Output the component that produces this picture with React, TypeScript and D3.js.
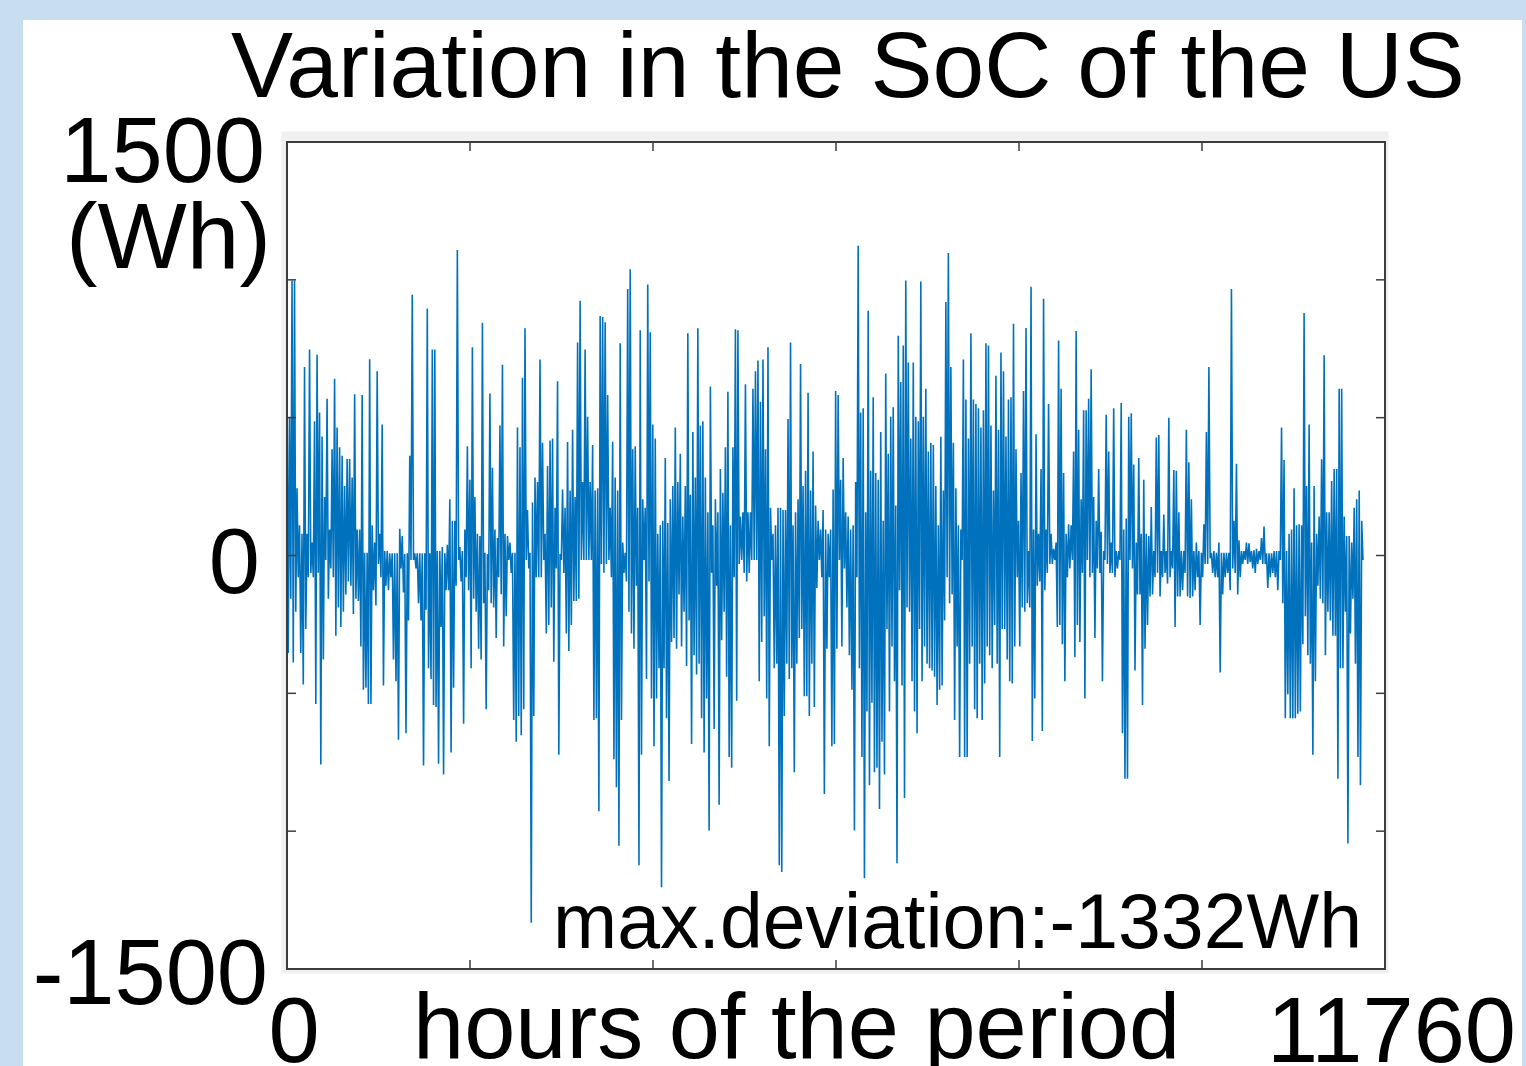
import React, { useRef, useEffect } from "react";
import * as d3 from "d3";

// positive and negative excursions of the SoC, read column by column (Wh)
const upperPeaks = [
  676, 503, 998, 998, 244, 110, 79, 684, 79, 747,
  47, 487, 728, 519, 432, 212, 569, 94, 385, 641,
  464, 393, 362, 252, 350, 350, 283, 585, 94, 94,
  582, 10, 10, 712, 110, 47, 668, 79, 475, 16,
  16, 8, 8, 8, 8, 97, 71, 5, 8, 362,
  946, 8, 8, 8, 8, 8, 896, 8, 747, 747,
  16, 16, 31, 8, 39, 204, 126, 126, 1108,
  31, 16, 94, 396, 275, 755, 212, 79, 71, 844, 10,
  5, 588, 318, 94, 63, 472, 692, 79, 71, 47,
  10, 10, 464, 393, 645, 824, 165, 10, 192, 283,
  267, 711, 409, 79, 325, 417, 424, 173, 632, 5,
  239, 173, 412, 236, 456, 212, 773, 924, 267, 747,
  503, 267, 401, 236, 244, 869, 865, 846, 582, 173,
  413, 283, 236, 770, 47, 10, 967, 1038, 385, 396, 173, 817,
  204, 173, 983, 810, 475, 424, 79, 110,
  126, 354, 118, 204, 252, 464, 267, 369, 141, 252,
  806, 220, 448, 283, 824, 472, 487, 283, 157, 613,
  110, 204, 157, 314, 228, 393, 594, 110, 393, 821,
  817, 141, 157, 621, 157, 157, 605, 668, 707, 558,
  711, 385, 755, 173, 79, 110, 173, 173, 165, 165,
  495, 773, 110, 157, 204, 695, 252, 307, 590, 236,
  377, 181, 126, 94, 165, 94, 79, 94, 239, 597,
  582, 275, 354, 157, 141, 94, 110, 267, 1124, 519,
  534, 157, 888, 307, 574, 299, 275, 448, 126, 660,
  369, 503, 538, 181, 797, 629, 762, 998, 700, 424,
  700, 503, 487, 994, 503, 605, 377, 409, 401, 252,
  110, 431, 236, 920, 1097, 684, 409, 244, 110, 94,
  711, 566, 424, 806, 566, 550, 534, 464, 527, 770,
  762, 472, 236, 652,
  456, 736, 668, 432, 566, 574,
  841, 385, 126, 299, 597, 825, 16, 975, 94, 440,
  79, 314, 931, 94, 550, 79, 24, 47, 780, 605,
  299, 79, 113, 110, 377, 814, 456, 204, 527, 527,
  569, 676, 212, 126, 314, 86, 16, 511, 377, 47,
  534, 16, 16, 553, 94, 134, 503, 516, 330, 47,
  354, 79, 275, 79, 71, 176, 16, 428, 437, 16,
  149, 16, 500, 16, 310,
  307, 157, 16, 16, 456, 338, 204, 16, 47, 16,
  10, 113, 448, 684, 10, 16, 10, 47, 10, 10,
  10, 10, 967, 126, 333, 55, 16, 16, 47, 44,
  16, 19, 24, 16, 63, 105, 8, 8, 8, 16,
  16, 16, 464, 346, 16, 79, 94, 244, 110, 113,
  110, 880, 252, 475, 47, 252, 79, 141, 349, 726,
  157, 157, 270, 314, 314, 605, 605, 141, 71, 71,
  47, 173, 204, 236, 126,
];

const lowerPeaks = [
  -354, -157, -388, -204, -79, -354, -468, -267, -79, -63,
  -79, -539, -63, -758, -377, -16, -157, -47, -79, -291,
  -189, -259, -204, -141, -94, -110, -212, -157, -165, -330,
  -487, -480, -539, -539, -126, -181, -31, -79, -472, -110,
  -126, -79, -377, -456, -668, -47, -134, -645, -236, -16,
  -16, -47, -173, -236, -762, -197, -409, -448, -542, -550,
  -755, -259, -794, -126, -126, -715, -480, -110, -16,
  -94, -610, -79, -126, -409, -157, -204, -338, -377, -173, -558,
  -126, -173, -189, -299, -79, -141, -330, -220, -16, -63,
  -597, -676, -582, -652, -558, -16, -47, -1332, -582, -79,
  -79, -79, -16, -283, -252, -189, -385, -47, -723, -16,
  -63, -283, -346, -252, -165, -165, -157, -16, -16, -16,
  -16, -16, -597, -590, -928, -31, -63, -31, -16, -79,
  -739, -841, -1053, -597, -63, -94, -204, -283, -338, -110, -1124, -723,
  -16, -448, -94, -519, -692, -519, -409, -1203,
  -409, -590, -818, -314, -299, -338, -141, -330, -204, -401,
  -236, -684, -362, -432, -393, -590, -715, -519, -998, -63,
  -629, -110, -904, -307, -204, -440, -731, -770, -79, -527,
  -31, -16, -63, -94, -63, -16, -16, -16, -456, -314,
  -220, -519, -692, -16, -409, -393, -1124, -1148, -582, -393,
  -448, -409, -786, -393, -299, -267, -511, -511, -582, -393,
  -550, -118, -16, -79, -865, -338, -79, -692, -684, -338,
  -16, -330, -47, -189, -362, -487, -998, -79, -409, -731,
  -1171, -566, -833, -534, -786, -770, -920, -676, -794, -267,
  -566, -330, -456, -1116, -126, -472, -880, -189, -204, -456,
  -566, -645, -267, -456, -330, -393, -409, -417, -440, -542,
  -487, -472, -236, -79, -173, -141, -597, -330, -731, -16,
  -731, -731, -393, -330, -558, -590, -393, -597, -464, -330,
  -362, -409, -252, -393,
  -731, -267, -267, -377, -456, -464,
  -330, -79, -330, -189, -204, -173, -189, -673, -519, -110,
  -94, -637, -126, -63, -31, -31, -16, -259, -252, -322,
  -456, -79, -47, -16, -369, -252, -314, -63, -519, -16,
  -79, -63, -299, -47, -63, -456, -16, -31, -63, -63,
  -79, -47, -16, -645, -810, -810, -16, -47, -417, -141,
  -141, -542, -338, -252, -149, -141, -79, -63, -149, -79,
  -63, -102, -79, -47, -259,
  -149, -149, -126, -63, -149, -154, -149, -126, -79, -252,
  -79, -31, -31, -10, -63, -79, -79, -424, -141, -79,
  -63, -126, -47, -63, -141, -79, -31, -16, -31, -24,
  -47, -63, -31, -16, -31, -31, -118, -79, -63, -79,
  -126, -16, -173, -590, -503, -590, -590, -590, -574, -566,
  -322, -220, -362, -393, -723, -456, -110, -157, -173, -362,
  -204, -236, -291, -291, -810, -409, -409, -204, -1045, -283,
  -157, -393, -731, -833, -16,
];

const lastHour = 11524; // the series stops short of the axis end
const xDomain = [0, 11760];
const yDomain = [-1500, 1500];
const xTicks = [0, 1960, 3920, 5880, 7840, 9800, 11760];
const yTicks = [-1500, -1000, -500, 0, 500, 1000, 1500];
const xTickLabels = ["0", "11760"];
const yTickLabels = ["1500", "0", "-1500"];
const title = "Variation in the SoC of the US";
const xTitle = "hours of the period";
const yUnit = "(Wh)";
const note = "max.deviation:-1332Wh";

const font = "'Liberation Sans', Arial, Helvetica, sans-serif";

function App() {
  const svgRef = useRef(null);

  useEffect(() => {
    const svg = d3.select(svgRef.current);
    svg.selectAll("*").remove();

    const x = d3.scaleLinear().domain(xDomain).range([287, 1385]);
    const y = d3.scaleLinear().domain(yDomain).range([969, 142]);

    // up/down pairs one after the other, like the hourly swings
    const n = Math.min(upperPeaks.length, lowerPeaks.length);
    const series: number[] = [];
    for (let i = 0; i < n; i++) {
      series.push(upperPeaks[i], lowerPeaks[i]);
    }
    const step = lastHour / (series.length - 1);

    // page background + white panel
    svg.append("rect").attr("width", 1526).attr("height", 1066).attr("fill", "#c9ddf1");
    svg.append("rect").attr("x", 23).attr("y", 20).attr("width", 1499).attr("height", 1046).attr("fill", "#ffffff");

    // grey figure backdrop behind the axes box
    svg.append("rect").attr("x", 281.5).attr("y", 131.5).attr("width", 1107).attr("height", 842).attr("fill", "#f0f0f0");
    svg.append("rect")
      .attr("x", x(xDomain[0])).attr("y", y(yDomain[1]))
      .attr("width", x(xDomain[1]) - x(xDomain[0]))
      .attr("height", y(yDomain[0]) - y(yDomain[1]))
      .attr("fill", "#ffffff");

    const line = d3.line<number>()
      .x((d, i) => x(i * step))
      .y((d) => y(d));

    svg.append("path")
      .datum(series)
      .attr("d", line)
      .attr("fill", "none")
      .attr("stroke", "#0072bd")
      .attr("stroke-width", 1.6)
      .attr("stroke-linejoin", "miter")
      .attr("stroke-miterlimit", 1);

    // box with inward ticks on every side
    const tickLen = 9;
    const axisColor = "#3c3c3c";
    svg.append("rect")
      .attr("x", x(xDomain[0])).attr("y", y(yDomain[1]))
      .attr("width", x(xDomain[1]) - x(xDomain[0]))
      .attr("height", y(yDomain[0]) - y(yDomain[1]))
      .attr("fill", "none").attr("stroke", axisColor).attr("stroke-width", 2);

    const inner = xTicks.slice(1, -1);
    svg.selectAll(".xtick-b").data(inner).join("line")
      .attr("x1", (d) => x(d)).attr("x2", (d) => x(d))
      .attr("y1", y(yDomain[0])).attr("y2", y(yDomain[0]) - tickLen)
      .attr("stroke", axisColor).attr("stroke-width", 1.5);
    svg.selectAll(".xtick-t").data(inner).join("line")
      .attr("x1", (d) => x(d)).attr("x2", (d) => x(d))
      .attr("y1", y(yDomain[1])).attr("y2", y(yDomain[1]) + tickLen)
      .attr("stroke", axisColor).attr("stroke-width", 1.5);

    const innerY = yTicks.slice(1, -1);
    svg.selectAll(".ytick-l").data(innerY).join("line")
      .attr("x1", x(xDomain[0])).attr("x2", x(xDomain[0]) + tickLen)
      .attr("y1", (d) => y(d)).attr("y2", (d) => y(d))
      .attr("stroke", axisColor).attr("stroke-width", 1.5);
    svg.selectAll(".ytick-r").data(innerY).join("line")
      .attr("x1", x(xDomain[1])).attr("x2", x(xDomain[1]) - tickLen)
      .attr("y1", (d) => y(d)).attr("y2", (d) => y(d))
      .attr("stroke", axisColor).attr("stroke-width", 1.5);

    const text = (s: string, tx: number, ty: number, anchor: string, size = 92) =>
      svg.append("text")
        .attr("x", tx).attr("y", ty)
        .attr("text-anchor", anchor)
        .attr("font-family", font)
        .attr("font-size", size)
        .attr("fill", "#000")
        .text(s);

    text(title, 848, 97, "middle", 93);

    // y labels: top, middle, bottom
    text(yTickLabels[0], 265, y(1500) + 40, "end");
    text(yUnit, 271, 268, "end")
      .attr("textLength", 205)
      .attr("lengthAdjust", "spacingAndGlyphs");
    text(yTickLabels[1], 260, y(0) + 37, "end");
    text(yTickLabels[2], 268, y(-1500) + 35, "end");

    // x labels
    text(xTickLabels[0], x(0) + 7, 1062, "middle");
    text(xTitle, 413, 1058, "start");
    text(xTickLabels[1], 1516, 1062, "end");

    text(note, 1362, 948, "end", 77);
  }, []);

  return (
    <svg
      ref={svgRef}
      width={1526}
      height={1066}
      style={{ position: "absolute", left: 0, top: 0, display: "block" }}
    ></svg>
  );
}

export default App;
